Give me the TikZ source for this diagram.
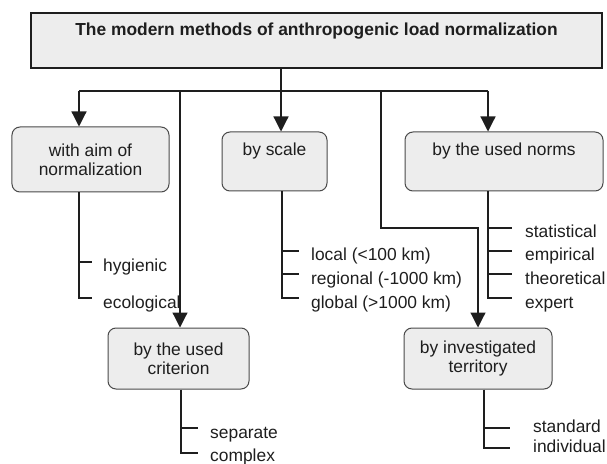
\documentclass[tikz,border=0pt]{standalone}
\usepackage{fontspec}
\setmainfont{Liberation Sans}
\usetikzlibrary{arrows.meta,calc}
\definecolor{boxfill}{HTML}{EDEDED}
\definecolor{ink}{HTML}{1E1E1E}
\definecolor{edge}{HTML}{4A4A4A}
\begin{document}
\begin{tikzpicture}[x=1bp,y=-1bp,
  every node/.style={font=\fontsize{17.4bp}{19bp}\selectfont, text=ink},
  mainbox/.style={draw=ink, line width=1.4bp, fill=boxfill, minimum width=571bp, minimum height=55bp, inner sep=0},
  catbox/.style={draw=edge, line width=1bp, fill=boxfill, rounded corners=8bp, align=center, inner sep=0},
  wire/.style={draw=ink, line width=1.2bp},
  arr/.style={wire, -{Triangle[width=15bp,length=15bp]}},
  item/.style={anchor=base west, inner sep=0}
]
\useasboundingbox (0,0) rectangle (607,464);

% boxes
\node[mainbox] (top) at (316.5,40.5) {};
\node[font=\fontsize{17.4bp}{19bp}\selectfont\bfseries] (title) at ([yshift=9.5bp]top.center) {The modern methods of anthropogenic load normalization};

\node[catbox, minimum width=157bp, minimum height=65bp] (aim) at (90.5,159.5) {with aim of\\normalization};
\node[catbox, minimum width=105bp, minimum height=59bp] (scale) at (274.5,161.5) {by scale\\\strut};
\node[catbox, minimum width=198bp, minimum height=59bp] (norms) at (504,161.5) {by the used norms\\\strut};
\node[catbox, minimum width=141bp, minimum height=61bp] (crit) at (178.5,358.5) {by the used\\criterion};
\node[catbox, minimum width=148bp, minimum height=61bp] (terr) at (478,358.5) {by investigated\\territory};

% junction points on the bus
\coordinate (jL) at (79,91);
\coordinate (j2) at (180,91);
\coordinate (jC) at (281,91);
\coordinate (j4) at (381,91);
\coordinate (jR) at (488,91);
\coordinate (bend) at (381,228);

\draw[wire] (top.south -| jC) -- (jC);
\draw[wire] (jL) -- (jR);
\draw[arr] (jL) -- (jL |- aim.north);
\draw[arr] (jC) -- (jC |- scale.north);
\draw[arr] (jR) -- (jR |- norms.north);
\draw[arr] (j2) -- (j2 |- crit.north);
\draw[arr] (j4) -- (bend) -| (terr.north);

% trunk x positions
\coordinate (xA) at (79,0);
\coordinate (xS) at (282,0);
\coordinate (xN) at (488,0);
\coordinate (xC) at (181,0);
\coordinate (xT) at (484,0);

% aim tree
\draw[wire] (aim.south -| xA) -- (79,298) -- (92,298);
\draw[wire] (79,262) -- (92,262);
\node[item] (hyg) at (103,272) {hygienic};
\node[item] (eco) at (103,308) {ecological};

% scale tree
\draw[wire] (scale.south -| xS) -- (282,298) -- (299,298);
\foreach \y in {251,274} \draw[wire] (282,\y) -- (299,\y);
\node[item] (loc) at (311,261) {local (<100 km)};
\node[item] (reg) at (311,285) {regional (-1000 km)};
\node[item] (glo) at (311,308) {global (>1000 km)};

% norms tree
\draw[wire] (norms.south -| xN) -- (488,298) -- (512,298);
\foreach \y in {228,251,274} \draw[wire] (488,\y) -- (512,\y);
\node[item] (sta) at (525,238) {statistical};
\node[item] (emp) at (525,261) {empirical};
\node[item] (the) at (525,285) {theoretical};
\node[item] (exp) at (525,308) {expert};

% criterion tree
\draw[wire] (crit.south -| xC) -- (181,453) -- (198,453);
\draw[wire] (181,428) -- (198,428);
\node[item] (sep) at (210,438) {separate};
\node[item] (com) at (210,461) {complex};

% territory tree
\draw[wire] (terr.south -| xT) -- (484,448) -- (510,448);
\draw[wire] (484,428) -- (510,428);
\node[item] (std) at (533,432) {standard};
\node[item] (ind) at (533,452) {individual};
\end{tikzpicture}
\end{document}
